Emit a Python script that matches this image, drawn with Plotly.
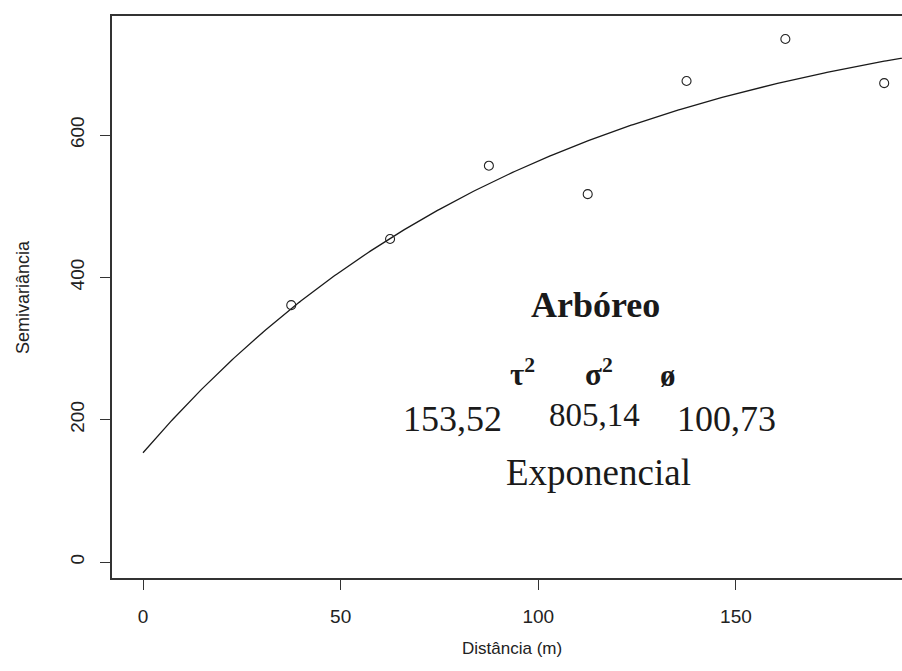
import numpy as np
import plotly.graph_objects as go

dist = [37.5, 62.5, 87.5, 112.5, 137.5, 162.5, 187.5]
semiv = [361, 454, 557, 517, 676, 735, 673]

# Fitted exponential model parameters (as printed)
nugget = 153.52   # tau^2
sill = 805.14     # sigma^2
phi = 100.73      # range

h = np.linspace(0, 200, 401)
model = nugget + (sill - nugget) * (1 - np.exp(-h / phi))

xticks = [0, 50, 100, 150]
yticks = [0, 200, 400, 600]

W, H = 902, 671
L, R, T, B = 112, 0, 16, 93

sans = "Liberation Sans Narrow, Arial Narrow, Liberation Sans, Arial, sans-serif"
axis_font = dict(family=sans, size=19, color="#222")
serif = "Liberation Serif, Times New Roman, serif"

fig = go.Figure()
fig.add_trace(go.Scatter(x=h, y=model, mode="lines",
                         line=dict(color="#1a1a1a", width=1.3), showlegend=False))
fig.add_trace(go.Scatter(x=dist, y=semiv, mode="markers",
                         marker=dict(symbol="circle-open", size=9,
                                     line=dict(color="#222", width=1.1), color="#222"),
                         showlegend=False))

def px_x(px):
    return (px - L) / (W - L - R)

def px_y(py):
    return (H - B - py) / (H - T - B)

annots = [
    dict(text="<b>Arbóreo</b>", x=px_x(595), y=px_y(305), size=36),
    dict(text="<b>τ<sup>2</sup></b>", x=px_x(522), y=px_y(372), size=31),
    dict(text="<b>σ<sup>2</sup></b>", x=px_x(599), y=px_y(372), size=31),
    dict(text="<b>ø</b>", x=px_x(668), y=px_y(376), size=31),
    dict(text="153,52", x=px_x(452), y=px_y(419), size=36),
    dict(text="805,14", x=px_x(594), y=px_y(415), size=33),
    dict(text="100,73", x=px_x(726), y=px_y(419), size=36),
    dict(text="Exponencial", x=px_x(598), y=px_y(472), size=37),
]
for a in annots:
    fig.add_annotation(text=a["text"], x=a["x"], y=a["y"], xref="paper", yref="paper",
                       xanchor="center", yanchor="middle", showarrow=False,
                       font=dict(family=serif, size=a["size"], color="#1a1a1a"))

fig.add_annotation(text="Distância (m)", x=px_x(512), y=px_y(648), xref="paper", yref="paper",
                   xanchor="center", yanchor="middle", showarrow=False,
                   font=dict(family=sans, size=17, color="#222"))
fig.add_annotation(text="Semivariância", x=px_x(23), y=px_y(297), xref="paper", yref="paper",
                   xanchor="center", yanchor="middle", showarrow=False, textangle=-90,
                   font=dict(family=sans, size=18, color="#222"))

fig.update_layout(
    width=W, height=H,
    margin=dict(l=L, r=R, t=T, b=B),
    plot_bgcolor="white", paper_bgcolor="white",
    xaxis=dict(range=[(L - 143) / 3.953, (W - R - 143) / 3.953],
               tickvals=xticks, ticktext=[str(v) for v in xticks],
               ticks="outside", ticklen=10, tickwidth=1, tickcolor="#333",
               showline=True, linecolor="#333", linewidth=1.5, mirror=True,
               showgrid=False, zeroline=False, tickfont=axis_font,
               ticklabelstandoff=10),
    yaxis=dict(range=[(562 - (H - B)) / 0.7115, (562 - T) / 0.7115],
               tickvals=yticks, ticktext=[str(v) for v in yticks],
               ticks="outside", ticklen=10, tickwidth=1, tickcolor="#333",
               showline=True, linecolor="#333", linewidth=1.5,
               showgrid=False, zeroline=False, tickfont=axis_font,
               tickangle=-90, ticklabelstandoff=9),
)

fig.write_html("out.html")
